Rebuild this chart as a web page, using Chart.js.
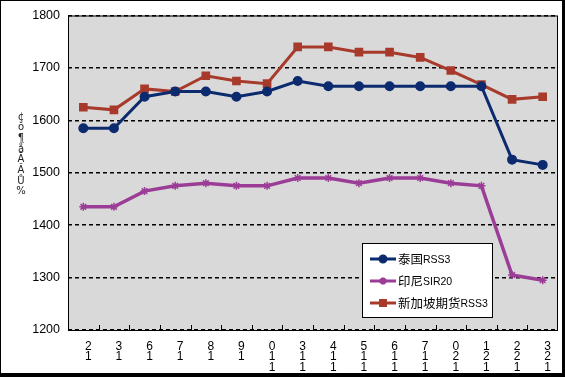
<!DOCTYPE html>
<html>
<head>
<meta charset="utf-8">
<script src="https://cdn.jsdelivr.net/npm/chart.js@4"></script>
<style>
  html, body { margin: 0; padding: 0; background: #fff; }
  #wrap { width: 565px; height: 377px; position: relative; }
</style>
</head>
<body>
<div id="wrap"><canvas id="rubberChart" width="565" height="377"></canvas></div>
<script>
// Category labels (garbled vertical date labels, stacked one glyph per line)
const categories = [
  ['2', '1'], ['3', '1'], ['6', '1'], ['7', '1'], ['8', '1'], ['9', '1'],
  ['0', '1', '1'], ['3', '1', '1'], ['4', '1', '1'], ['5', '1', '1'],
  ['6', '1', '1'], ['7', '1', '1'], ['0', '2', '1'], ['1', '2', '1'],
  ['2', '2', '1'], ['3', '2', '1']
];

const seriesNames = ['泰国RSS3', '印尼SIR20', '新加坡期货RSS3'];

const thaiRss3 = [1585, 1585, 1645, 1655, 1655, 1645, 1655, 1675, 1665, 1665, 1665, 1665, 1665, 1665, 1525, 1515];
const indoSir20 = [1435, 1435, 1465, 1475, 1480, 1475, 1475, 1490, 1490, 1480, 1490, 1490, 1480, 1475, 1305, 1295];
const sgxRss3 = [1625, 1620, 1660, 1655, 1685, 1675, 1670, 1740, 1740, 1730, 1730, 1720, 1695, 1668, 1640, 1645];

const yTicks = [1200, 1300, 1400, 1500, 1600, 1700, 1800];
const yTitleGlyphs = ['¢', 'ŏ', '¶', 'ǻ', 'Ā', 'Ă', 'Ů', '%'];

// Gray plot background + frame + inner tick marks + outer border
const framePlugin = {
  id: 'framePlugin',
  beforeDraw(chart) {
    const { ctx, chartArea: a } = chart;
    ctx.save();
    ctx.fillStyle = '#ffffff';
    ctx.fillRect(0, 0, chart.width, chart.height);
    ctx.fillStyle = '#d9d9d9';
    ctx.fillRect(a.left, a.top, a.right - a.left, a.bottom - a.top);
    ctx.restore();
  },
  beforeDatasetsDraw(chart) {
    const { ctx, chartArea: a, scales } = chart;
    ctx.save();
    ctx.strokeStyle = '#000';
    ctx.lineWidth = 1;
    ctx.strokeRect(a.left + 0.5, a.top + 0.5, a.right - a.left - 1, a.bottom - a.top);
    // small tick marks between categories, pointing into the plot
    const x = scales.x;
    const step = x.getPixelForTick(1) - x.getPixelForTick(0);
    ctx.beginPath();
    for (let i = 1; i < categories.length; i++) {
      const px = Math.round(x.getPixelForTick(i) - step / 2) + 0.5;
      ctx.moveTo(px, a.bottom);
      ctx.lineTo(px, a.bottom - 5);
    }
    ctx.stroke();
    ctx.restore();
  },
  afterDraw(chart) {
    const { ctx } = chart;
    ctx.save();
    // vertical y-axis title
    ctx.fillStyle = '#222';
    ctx.font = '10px "DejaVu Sans"';
    ctx.textAlign = 'center';
    ctx.textBaseline = 'middle';
    yTitleGlyphs.forEach((g, i) => ctx.fillText(g, 21, 117 + i * 10.7));
    // outer border
    ctx.fillStyle = '#000';
    ctx.fillRect(0, 0, chart.width, 1);
    ctx.fillRect(0, 0, 1, chart.height);
    ctx.fillRect(chart.width - 3, 0, 3, chart.height);
    ctx.fillRect(0, chart.height - 4, chart.width, 4);
    ctx.restore();
  }
};

// Legend box drawn inside the plot area
const boxLegend = {
  id: 'boxLegend',
  afterDatasetsDraw(chart) {
    const { ctx } = chart;
    const bx = 362, by = 243, bw = 130, bh = 74;
    ctx.save();
    ctx.fillStyle = '#fff';
    ctx.fillRect(bx, by, bw, bh);
    ctx.strokeStyle = '#000';
    ctx.lineWidth = 1;
    ctx.strokeRect(bx + 0.5, by + 0.5, bw, bh);
    chart.data.datasets.forEach((ds, i) => {
      const y = by + 16 + i * 22;
      ctx.strokeStyle = ds.borderColor;
      ctx.lineWidth = 3;
      ctx.beginPath();
      ctx.moveTo(370, y);
      ctx.lineTo(396, y);
      ctx.stroke();
      ctx.fillStyle = ds.borderColor;
      ctx.strokeStyle = ds.borderColor;
      Chart.helpers.drawPoint(ctx, {
        pointStyle: ds.pointStyle, radius: ds.pointRadius - 0.5, borderWidth: 1.5
      }, 383, y);
      // text: CJK part larger, latin part smaller
      let tx = 398;
      ctx.fillStyle = '#000';
      ctx.textBaseline = 'middle';
      const parts = ds.label.match(/[\u4e00-\u9fff]+|[^\u4e00-\u9fff]+/g);
      parts.forEach(p => {
        const cjk = /[\u4e00-\u9fff]/.test(p);
        ctx.font = cjk ? '12.5px "Noto Sans CJK SC"' : '10.5px "Liberation Sans"';
        ctx.fillText(p, tx, y + (cjk ? 0 : 1));
        tx += ctx.measureText(p).width;
      });
    });
    ctx.restore();
  }
};

const ctx = document.getElementById('rubberChart').getContext('2d');
const rubberChart = new Chart(ctx, {
  type: 'line',
  data: {
    labels: categories,
    datasets: [{
      label: seriesNames[0],
      data: thaiRss3,
      borderColor: '#0c2a6e',
      backgroundColor: '#0c2a6e',
      borderWidth: 3,
      pointStyle: 'circle',
      pointRadius: 3.5,
      tension: 0
    }, {
      label: seriesNames[1],
      data: indoSir20,
      borderColor: '#9b3d97',
      backgroundColor: '#9b3d97',
      borderWidth: 3.5,
      pointStyle: 'star',
      pointRadius: 4,
      pointBorderWidth: 1.5,
      tension: 0
    }, {
      label: seriesNames[2],
      data: sgxRss3,
      borderColor: '#a83a2c',
      backgroundColor: '#a83a2c',
      borderWidth: 3,
      pointStyle: 'rect',
      pointRadius: 4,
      tension: 0
    }]
  },
  options: {
    responsive: false,
    animation: false,
    devicePixelRatio: 1,
    layout: { padding: { top: 11, right: 7, left: 0, bottom: 0 } },
    plugins: {
      legend: { display: false },
      tooltip: { enabled: false }
    },
    scales: {
      x: {
        offset: true,
        grid: { display: false },
        border: { display: false },
        ticks: {
          color: '#000',
          font: { family: 'Arial, "Liberation Sans"', size: 12, lineHeight: 0.88 },
          padding: 3,
          labelOffset: 5,
          maxRotation: 0,
          autoSkip: false
        },
        afterFit(s) { s.height = 47; }
      },
      y: {
        min: 1200,
        max: 1800,
        afterBuildTicks(s) { s.ticks = yTicks.map(v => ({ value: v })); },
        grid: { color: '#000', lineWidth: 1.5, drawTicks: false },
        border: { display: false, dash: [4, 3] },
        ticks: {
          color: '#000',
          font: { family: 'Arial, "Liberation Sans"', size: 12.5 },
          padding: 8,
          callback: v => String(v)
        },
        afterFit(s) { s.width = 68; }
      }
    }
  },
  plugins: [framePlugin, boxLegend]
});
</script>
</body>
</html>
